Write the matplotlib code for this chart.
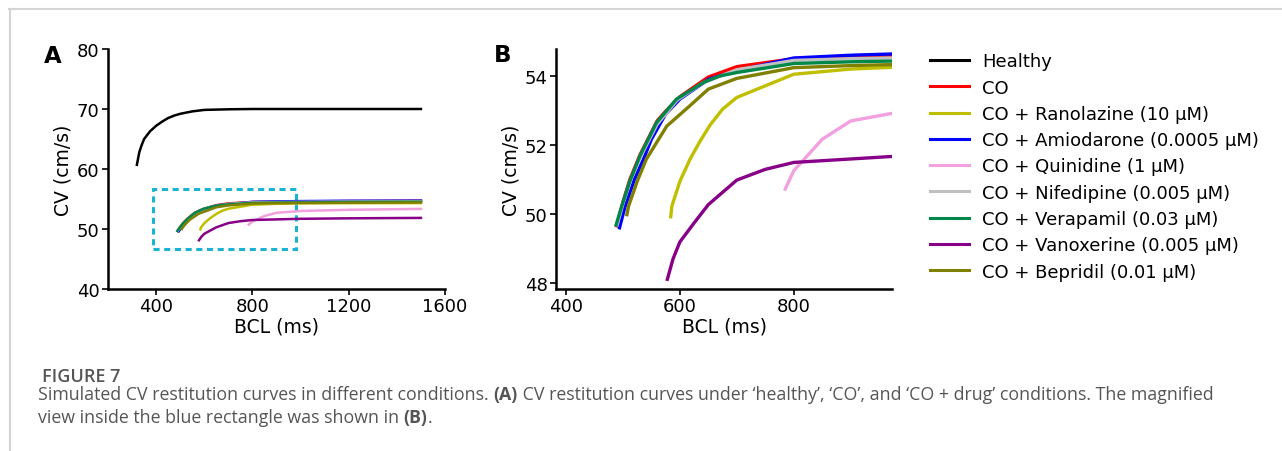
import matplotlib
matplotlib.use("Agg")
import matplotlib.pyplot as plt
from matplotlib.patches import Rectangle

# ---------------- data ----------------
healthy_bcl = [320, 330, 340, 350, 375, 400, 425, 450, 475, 500, 550, 600, 700, 800, 1000, 1200, 1500]
healthy_cv = [60.7, 62.8, 64.0, 65.0, 66.3, 67.2, 67.9, 68.5, 68.9, 69.2, 69.6, 69.85, 69.95, 70.0, 70.0, 70.0, 70.0]

co_bcl = [489, 500, 512, 530, 560, 575, 600, 650, 700, 800, 900, 1000, 1200, 1500]
co_cv = [49.67, 50.35, 51.0, 51.72, 52.7, 52.98, 53.4, 53.97, 54.27, 54.5, 54.55, 54.6, 54.65, 54.7]

ran_bcl = [584, 586, 600, 618, 635, 653, 675, 700, 800, 900, 1000, 1200, 1500]
ran_cv = [49.93, 50.24, 50.95, 51.6, 52.1, 52.58, 53.04, 53.38, 54.05, 54.2, 54.27, 54.3, 54.32]

ami_bcl = [494, 504, 520, 536, 550, 575, 600, 650, 700, 800, 900, 1000, 1200, 1500]
ami_cv = [49.61, 50.24, 51.0, 51.59, 52.17, 52.9, 53.33, 53.9, 54.15, 54.52, 54.6, 54.65, 54.7, 54.72]

qui_bcl = [785, 800, 850, 900, 1000, 1200, 1500]
qui_cv = [50.73, 51.26, 52.17, 52.7, 53.0, 53.2, 53.35]

nif_bcl = [490, 500, 515, 532, 560, 595, 640, 700, 800, 900, 1000, 1200, 1500]
nif_cv = [49.7, 50.3, 51.05, 51.7, 52.6, 53.3, 53.8, 54.18, 54.45, 54.5, 54.53, 54.58, 54.62]

ver_bcl = [488, 498, 512, 530, 559, 594, 641, 670, 700, 800, 900, 1000, 1200, 1500]
ver_cv = [49.69, 50.24, 50.95, 51.69, 52.65, 53.33, 53.81, 54.0, 54.1, 54.36, 54.41, 54.44, 54.5, 54.55]

van_bcl = [578, 588, 600, 625, 650, 700, 750, 800, 900, 1000, 1200, 1500]
van_cv = [48.12, 48.71, 49.2, 49.75, 50.28, 50.99, 51.3, 51.5, 51.6, 51.7, 51.78, 51.85]

bep_bcl = [507, 510, 525, 541, 577, 617, 650, 700, 800, 900, 1000, 1200, 1500]
bep_cv = [49.99, 50.24, 50.95, 51.59, 52.55, 53.13, 53.62, 53.93, 54.24, 54.3, 54.34, 54.38, 54.42]

labels = ["Healthy", "CO", "CO + Ranolazine (10 µM)", "CO + Amiodarone (0.0005 µM)",
          "CO + Quinidine (1 µM)", "CO + Nifedipine (0.005 µM)", "CO + Verapamil (0.03 µM)",
          "CO + Vanoxerine (0.005 µM)", "CO + Bepridil (0.01 µM)"]
colors = ["#000000", "#ff0000", "#bfbf00", "#0000ff", "#f2a0e0", "#c0c0c0", "#00874a", "#880088", "#808000"]
series = [(healthy_bcl, healthy_cv), (co_bcl, co_cv), (ran_bcl, ran_cv), (ami_bcl, ami_cv),
          (qui_bcl, qui_cv), (nif_bcl, nif_cv), (ver_bcl, ver_cv), (van_bcl, van_cv), (bep_bcl, bep_cv)]

W, H = 1282, 452
fig = plt.figure(figsize=(W / 100, H / 100), dpi=100)
fig.patch.set_facecolor("white")

def ax_rect(l, t, r, b):
    return [l / W, 1 - b / H, (r - l) / W, (b - t) / H]

def fy(y):
    return 1 - y / H

# frame lines
fig.add_artist(plt.Line2D([9 / W, 1], [fy(10), fy(10)], color="#d4d4d4", lw=1.5))
fig.add_artist(plt.Line2D([10 / W, 10 / W], [fy(10), 0], color="#d4d4d4", lw=1.5))

axA = fig.add_axes(ax_rect(108, 50, 445, 290))
axB = fig.add_axes(ax_rect(556, 50, 892, 290))

for ax in (axA, axB):
    for s in ("top", "right"):
        ax.spines[s].set_visible(False)
    for s in ("left", "bottom"):
        ax.spines[s].set_linewidth(1.8)
    ax.tick_params(labelsize=13, width=1.2, length=4, pad=2)
    ax.set_xlabel("BCL (ms)", fontsize=13.5, labelpad=1)
    ax.set_ylabel("CV (cm/s)", fontsize=13.5, labelpad=3)

handles = []
for (x, y), c, lab in zip(series, colors, labels):
    axA.plot(x, y, color=c, lw=1.8)
    h, = axB.plot(x, y, color=c, lw=2.4, label=lab)
    handles.append(h)

axA.set_xlim(200, 1600)
axA.set_ylim(40, 80)
axA.set_xticks([400, 800, 1200, 1600])
axA.set_yticks([40, 50, 60, 70, 80])
axA.add_patch(Rectangle((385, 46.7), 595, 10.0, fill=False, ls=(0, (2, 1.5)), lw=2.2, ec="#1ab4d0"))

axB.set_xlim(382.5, 972.5)
axB.set_ylim(47.84, 54.78)
axB.set_xticks([400, 600, 800])
axB.set_yticks([48, 50, 52, 54])

fig.text(44 / W, fy(56.5), "A", fontsize=16.5, fontweight="bold", va="center")
fig.text(494 / W, fy(55), "B", fontsize=16.5, fontweight="bold", va="center")

leg = fig.legend(handles=handles, labels=labels, loc="upper left", bbox_to_anchor=(914 / W, fy(37)),
                 frameon=False, fontsize=13, handlelength=2.16, handletextpad=0.72, labelspacing=0.46)
for l in leg.get_lines():
    l.set_linewidth(2.2)

# caption
cap_font = ["Open Sans", "DejaVu Sans"]
cap_col = "#555555"
fs = 12.8
fig.text(42 / W, fy(381.7), "FIGURE 7", fontsize=13, color=cap_col, family=cap_font,
         fontweight="semibold", va="baseline")
t1 = fig.text(38 / W, fy(400), "Simulated CV restitution curves in different conditions. ",
              fontsize=fs, color=cap_col, family=cap_font, va="baseline")
t2 = fig.text(0, fy(400), "(A)", fontsize=fs, color=cap_col, family=cap_font, fontweight="bold", va="baseline")
t3 = fig.text(0, fy(400), " CV restitution curves under \u2018healthy\u2019, \u2018CO\u2019, and \u2018CO + drug\u2019 conditions. The magnified",
              fontsize=fs, color=cap_col, family=cap_font, va="baseline")
t4 = fig.text(38 / W, fy(423.3), "view inside the blue rectangle was shown in ",
              fontsize=fs, color=cap_col, family=cap_font, va="baseline")
t5 = fig.text(0, fy(423.3), "(B)", fontsize=fs, color=cap_col, family=cap_font, fontweight="bold", va="baseline")
t6 = fig.text(0, fy(423.3), ".", fontsize=fs, color=cap_col, family=cap_font, va="baseline")

fig.canvas.draw()
r = fig.canvas.get_renderer()
for a, b in ((t1, t2), (t2, t3), (t4, t5), (t5, t6)):
    bb = a.get_window_extent(r)
    b.set_position((bb.x1 / W, a.get_position()[1]))
    fig.canvas.draw()

fig.savefig("out.png", dpi=100, facecolor="white")
